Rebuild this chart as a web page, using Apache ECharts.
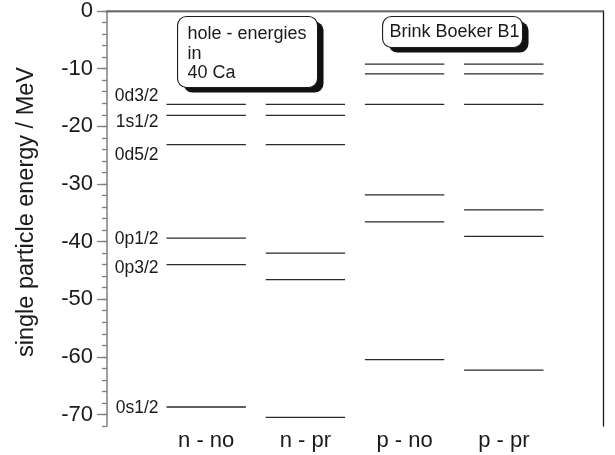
<!DOCTYPE html>
<html>
<head>
<meta charset="utf-8">
<script src="https://cdn.jsdelivr.net/npm/echarts@6/dist/echarts.min.js"></script>
<style>
  html, body { margin: 0; padding: 0; background: #fff; }
  #chart { width: 615px; height: 455px; }
</style>
</head>
<body>
<div id="chart"></div>
<script>
// Single-particle hole energies in 40Ca (Brink-Boeker B1 interaction)
const categories = ['n - no', 'n - pr', 'p - no', 'p - pr'];
const levelNames = ['0d3/2', '1s1/2', '0d5/2', '0p1/2', '0p3/2', '0s1/2'];
const nNo = [-16.2, -18.1, -23.2, -39.4, -44.0, -68.7];
const nPr = [-16.2, -18.1, -23.2, -42.0, -46.6, -70.5];
const pNo = [-9.2, -10.9, -16.2, -31.9, -36.6, -60.5];
const pPr = [-9.2, -10.9, -16.2, -34.5, -39.1, -62.3];
const yTickLabels = [0, -10, -20, -30, -40, -50, -60, -70];

// vertical nudge (px) for the level names written beside the first column
const nameShift = [-8, 7, 10, 1, 4, 1];

const FONT = '"Liberation Sans", Arial, Helvetica, sans-serif';
const HALF = 0.4; // half length of a level line, in x units

const columns = [nNo, nPr, pNo, pPr];
const levelData = [];
columns.forEach(function (vals, ci) {
  vals.forEach(function (v, li) {
    levelData.push({ value: [ci + 1, v], lname: ci === 0 ? levelNames[li] : '', shift: nameShift[li] });
  });
});

const chart = echarts.init(document.getElementById('chart'), null, { renderer: 'canvas' });

chart.setOption({
  animation: false,
  backgroundColor: '#fff',
  grid: { left: 107, right: 12, top: 9, bottom: 29, containLabel: false },
  xAxis: [
    {
      type: 'value', min: 0, max: 5, position: 'bottom',
      axisLine: { show: true, lineStyle: { color: '#1a1a1a', width: 1.3 } },
      axisTick: { show: false },
      splitLine: { show: false },
      axisLabel: {
        customValues: [1, 2, 3, 4],
        formatter: function (v) { return categories[v - 1] || ''; },
        fontFamily: FONT, fontSize: 22, color: '#1a1a1a', margin: 4
      }
    },
    {
      type: 'value', min: 0, max: 5, position: 'top',
      axisLine: { show: true, lineStyle: { color: '#808080', width: 1.5 } },
      axisTick: { show: false }, axisLabel: { show: false }, splitLine: { show: false }
    }
  ],
  yAxis: [
    {
      type: 'value', min: -72, max: 0, position: 'left',
      name: 'single particle energy / MeV',
      nameLocation: 'middle', nameRotate: 90, nameGap: 68,
      nameTextStyle: { fontFamily: FONT, fontSize: 23.5, color: '#1a1a1a', padding: [0, 0, 0, 13] },
      axisLine: { show: true, lineStyle: { color: '#808080', width: 1.5 } },
      axisTick: { show: true, customValues: yTickLabels, length: 10, lineStyle: { color: '#808080', width: 1.3 } },
      axisLabel: {
        customValues: yTickLabels,
        fontFamily: FONT, fontSize: 22, color: '#1a1a1a', margin: 14
      },
      splitLine: { show: false }
    },
    {
      type: 'value', min: -72, max: 0, interval: 2, position: 'left',
      axisLine: { show: false },
      axisTick: { show: true, length: 5, lineStyle: { color: '#808080', width: 1.3 } },
      axisLabel: { show: false },
      splitLine: { show: false }
    },
    {
      type: 'value', min: -72, max: 0, position: 'right',
      axisLine: { show: true, lineStyle: { color: '#1a1a1a', width: 1.3 } },
      axisTick: { show: false }, axisLabel: { show: false }, splitLine: { show: false }
    }
  ],
  series: [
    {
      type: 'custom',
      xAxisIndex: 0, yAxisIndex: 0,
      clip: false,
      data: levelData,
      renderItem: function (params, api) {
        const x = api.value(0), y = api.value(1);
        const p0 = api.coord([x - HALF, y]);
        const p1 = api.coord([x + HALF, y]);
        const item = levelData[params.dataIndex];
        const children = [{
          type: 'line',
          shape: { x1: p0[0], y1: p0[1], x2: p1[0], y2: p1[1] },
          style: { stroke: '#2a2a2a', lineWidth: 1.3 }
        }];
        if (item.lname) {
          children.push({
            type: 'text',
            style: {
              x: p0[0] - 8, y: p0[1] + item.shift,
              text: item.lname, align: 'right', verticalAlign: 'middle',
              font: '17.5px ' + FONT, fill: '#1a1a1a'
            }
          });
        }
        return { type: 'group', children: children };
      }
    }
  ],
  graphic: [
    {
      type: 'group', left: 177, top: 16,
      children: [
        { type: 'rect', shape: { x: 6, y: 5, width: 140, height: 71, r: 9 }, style: { fill: '#111' } },
        { type: 'rect', shape: { x: 0, y: 0, width: 140, height: 71, r: 9 }, style: { fill: '#fff', stroke: '#1a1a1a', lineWidth: 1.1 } },
        { type: 'text', x: 10, y: 8, style: { text: 'hole - energies\nin\n40 Ca', font: '18px ' + FONT, fill: '#1a1a1a', lineHeight: 19.5 } }
      ]
    },
    {
      type: 'group', left: 382, top: 16,
      children: [
        { type: 'rect', shape: { x: 6, y: 5, width: 140, height: 31, r: 9 }, style: { fill: '#111' } },
        { type: 'rect', shape: { x: 0, y: 0, width: 140, height: 31, r: 9 }, style: { fill: '#fff', stroke: '#1a1a1a', lineWidth: 1.1 } },
        { type: 'text', x: 7, y: 15.5, style: { text: 'Brink Boeker B1', font: '18px ' + FONT, fill: '#1a1a1a', verticalAlign: 'middle' } }
      ]
    }
  ]
});
</script>
</body>
</html>
